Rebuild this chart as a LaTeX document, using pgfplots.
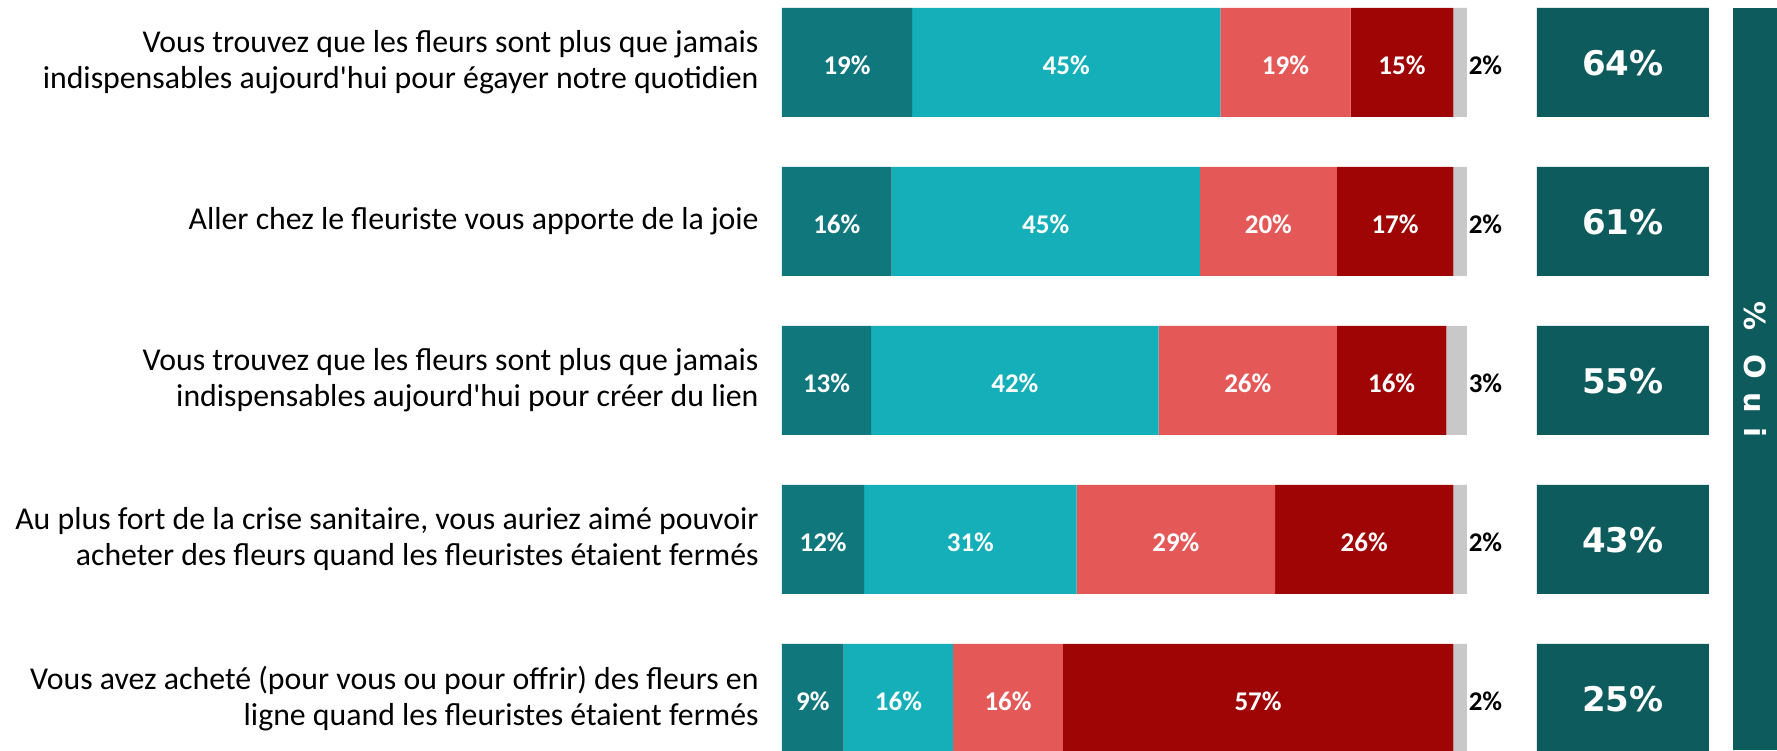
\documentclass[border=0pt]{standalone}
\usepackage{pgfplots}
\pgfplotsset{compat=1.18}
\usepackage{fontspec}
\setmainfont{Carlito}[Ligatures=TeXOff]
\newfontfamily\djs{DejaVu Sans}
\definecolor{c1}{HTML}{10777D}
\definecolor{c2}{HTML}{14AFB8}
\definecolor{c3}{HTML}{E55858}
\definecolor{c4}{HTML}{A00505}
\definecolor{c5}{HTML}{C8C8C8}
\definecolor{oui}{HTML}{0D5B5D}
\pgfplotsset{geom/.style={width=497.5pt, height=375pt, scale only axis,
  ymin=-0.393, ymax=4.324, y dir=reverse}}
\begin{document}
\begin{tikzpicture}
% main stacked bars
\begin{axis}[geom, xmin=0, xmax=145.26,
  xbar stacked, bar width=54.5pt,
  xtick=\empty, ytick={0,1,2,3,4},
  yticklabels={{Vous trouvez que les fleurs sont plus que jamais\\indispensables aujourd'hui pour égayer notre quotidien},
    {Aller chez le fleuriste vous apporte de la joie},
    {Vous trouvez que les fleurs sont plus que jamais\\indispensables aujourd'hui pour créer du lien},
    {Au plus fort de la crise sanitaire, vous auriez aimé pouvoir\\acheter des fleurs quand les fleuristes étaient fermés},
    {Vous avez acheté (pour vous ou pour offrir) des fleurs en\\ligne quand les fleuristes étaient fermés}},
  axis line style={draw=none}, tick style={draw=none},
  yticklabel style={align=right, inner sep=0pt, xshift=-11.5pt, font=\fontsize{15.9}{18}\selectfont},
  ]
\addplot[fill=c1, draw=none] coordinates {(19,0) (16,1) (13,2) (12,3) (9,4)};
\addplot[fill=c2, draw=none] coordinates {(45,0) (45,1) (42,2) (31,3) (16,4)};
\addplot[fill=c3, draw=none] coordinates {(19,0) (20,1) (26,2) (29,3) (16,4)};
\addplot[fill=c4, draw=none] coordinates {(15,0) (17,1) (16,2) (26,3) (57,4)};
\addplot[fill=c5, draw=none] coordinates {(2,0) (2,1) (3,2) (2,3) (2,4)};
\end{axis}
% segment labels
\begin{axis}[geom, xmin=0, xmax=145.26, hide axis, clip=false,
  point meta=explicit symbolic,
  nodes near coords={\pgfplotspointmeta\%}]
\addplot[only marks, mark=text, text mark={},
  every node near coord/.append style={anchor=center, text=white, inner sep=0pt, yshift=-1.5pt,
    font=\bfseries\fontsize{13.5}{13.5}\selectfont}]
  table[meta=v] {
x y v
9.5 0 19
41.5 0 45
73.5 0 19
90.5 0 15
8 1 16
38.5 1 45
71 1 20
89.5 1 17
6.5 2 13
34 2 42
68 2 26
89 2 16
6 3 12
27.5 3 31
57.5 3 29
85 3 26
4.5 4 9
17 4 16
33 4 16
69.5 4 57
};
\addplot[only marks, mark=text, text mark={},
  every node near coord/.append style={anchor=west, text=black, inner sep=0pt, yshift=-1.5pt,
    font=\bfseries\fontsize{13.5}{13.5}\selectfont}]
  table[meta=v] {
x y v
100.2 0 2
100.2 1 2
100.2 2 3
100.2 3 2
100.2 4 2
};
\end{axis}
% Oui boxes
\begin{axis}[geom, xmin=-110.2, xmax=35.06, hide axis, clip=false,
  xbar, bar width=54.5pt, point meta=explicit symbolic,
  nodes near coords={\pgfplotspointmeta\%},
  every node near coord/.append style={anchor=center, xshift=-43pt, yshift=-0.5pt, text=white,
    font=\djs\bfseries\fontsize{17}{17}\selectfont}]
\fill[oui] (axis cs:28.6,-0.34) rectangle (axis cs:35.06,4.324);
\node[rotate=-90, text=white, font=\djs\bfseries\fontsize{14.5}{14.5}\selectfont]
  at (axis cs:31.9,1.93) {\%\hspace{12pt}O\hspace{7pt}u\hspace{7pt}i};
\addplot[fill=oui, draw=none] table[meta=v] {
x y v
25.1 0 64
25.1 1 61
25.1 2 55
25.1 3 43
25.1 4 25
};
\end{axis}
\pgfresetboundingbox
\path[use as bounding box] (-391pt,0) rectangle (497.5pt,375pt);
\end{tikzpicture}
\end{document}
